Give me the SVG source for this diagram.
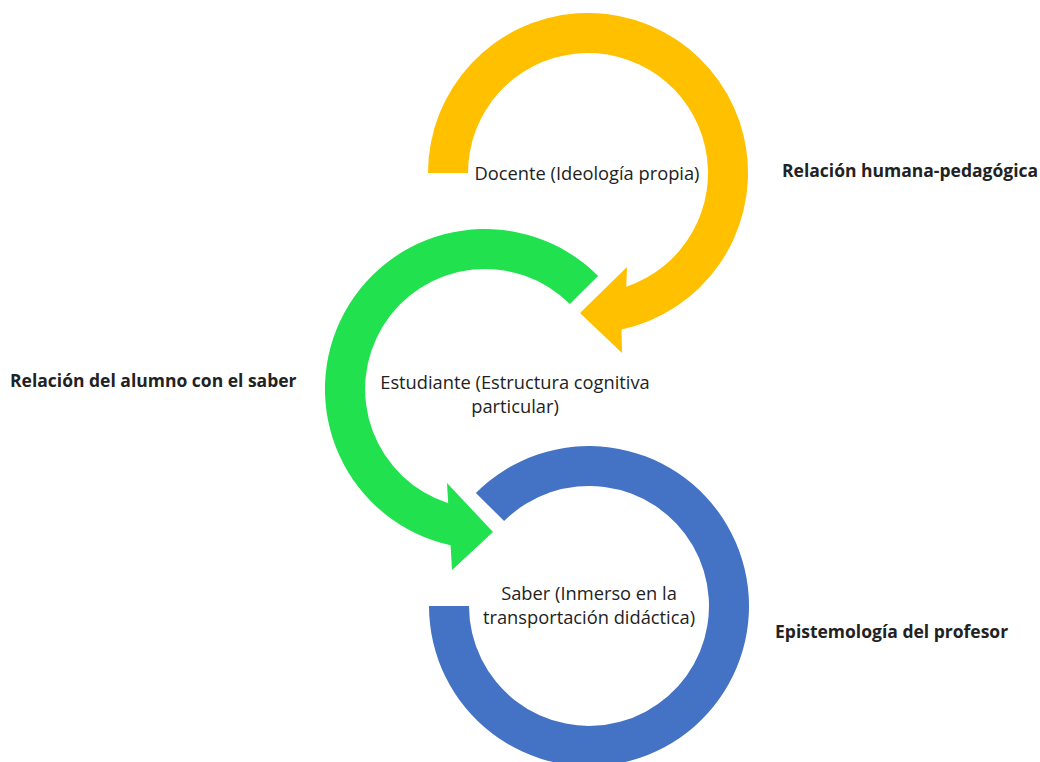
<svg xmlns="http://www.w3.org/2000/svg" width="1040" height="762" viewBox="0 0 1040 762">
<style>
.node-text{font-family:"Open Sans","Liberation Sans",sans-serif;font-size:18.3px;fill:#222;text-anchor:middle}
.label{font-family:"Open Sans","Liberation Sans",sans-serif;font-size:17.5px;font-weight:bold;fill:#222}
</style>
<rect width="1040" height="762" fill="#fff"/>
<g id="connectors">
</g>
<g id="docente">
<path fill="#FFC000" d="M428,173 A160,160 0 1 1 621.5,329.4 L622,353 L580,313 L627,267 L626.3,286.7 A120,120 0 1 0 468,173 Z"/>
<text class="node-text" x="587" y="180">Docente (Ideología propia)</text>
</g>
<g id="estudiante">
<path fill="#22E14F" d="M598.1,275.9 A160,160 0 1 0 450.6,545.3 L452,570 L493,532 L447,483 L448.2,503.2 A120,120 0 1 1 569.9,304.1 Z"/>
<text class="node-text" x="515" y="389">Estudiante (Estructura cognitiva</text>
<text class="node-text" x="515" y="413">particular)</text>
</g>
<g id="saber">
<path fill="#4472C4" d="M429,606 A160,160 0 1 0 475.9,492.9 L504.1,521.1 A120,120 0 1 1 469,606 Z"/>
<text class="node-text" x="589" y="600">Saber (Inmerso en la</text>
<text class="node-text" x="589" y="624">transportación didáctica)</text>
</g>
<g id="labels">
<text class="label" x="782" y="177">Relación humana-pedagógica</text>
<text class="label" x="10" y="387">Relación del alumno con el saber</text>
<text class="label" x="775" y="638">Epistemología del profesor</text>
</g>
</svg>
